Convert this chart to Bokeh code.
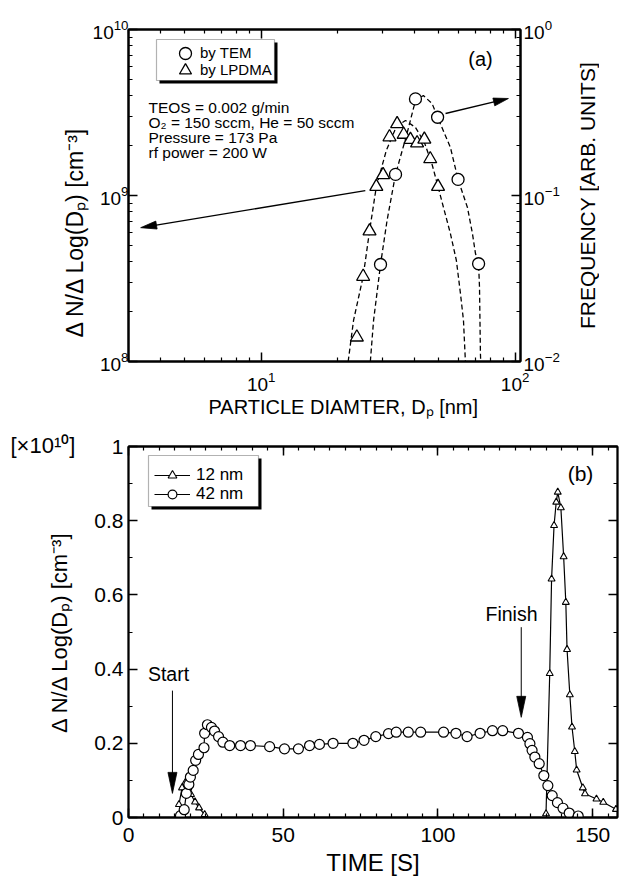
import math
from bokeh.plotting import figure
from bokeh.models import (Range1d, LogScale, LogAxis, LinearAxis, FixedTicker,
                          SingleIntervalTicker, Legend, LegendItem, Label, Title,
                          BoxAnnotation, CustomJSTickFormatter)
from bokeh.layouts import column, row
from bokeh.embed import file_html
from bokeh.resources import INLINE

FONT = "Liberation Sans"
NAN = float("nan")

# ---------------- panel (a): size distributions ----------------
tem_diam_nm = [29.5, 33.8, 40.5, 49.5, 59.6, 71.8]
tem_frequency = [0.0384, 0.134, 0.382, 0.296, 0.125, 0.0388]

lpdma_diam_nm = [23.8, 25.2, 26.7, 28.4, 30.2, 32.0, 34.3, 36.4, 38.7, 41.1, 43.9, 46.3, 49.7]
lpdma_conc = [1.40e8, 3.25e8, 6.1e8, 1.13e9, 1.33e9, 2.25e9, 2.70e9, 2.33e9, 2.17e9,
              2.07e9, 2.18e9, 1.66e9, 1.13e9]

lpdma_fit_diam = [22.0, 23.1, 25.2, 26.7, 28.4, 31.1, 34.1, 37.0, 40.5, 43.9, 47.2,
                  49.7, 52.2, 55.6, 58.7, 60.9, 62.6, 63.7]
lpdma_fit_conc = [1.0e8, 1.77e8, 3.25e8, 6.1e8, 1.13e9, 1.87e9, 2.61e9, 2.83e9, 2.57e9,
                  2.09e9, 1.52e9, 1.13e9, 8.5e8, 5.9e8, 4.06e8, 2.57e8, 1.77e8, 1.0e8]

tem_fit_diam = [26.9, 27.7, 29.5, 31.3, 33.8, 37.5, 40.5, 43.5, 47.1, 49.5, 55.6, 59.6,
                64.9, 67.9, 69.8, 71.8, 72.4, 73.0, 73.2]
tem_fit_freq = [0.010, 0.0177, 0.0384, 0.0707, 0.134, 0.236, 0.373, 0.400, 0.358, 0.296,
                0.195, 0.125, 0.0847, 0.059, 0.0447, 0.0388, 0.0279, 0.0112, 0.010]

a_x_range = (3, 105)
a_yl_range = (1e8, 1e10)
a_yr_range = (1e-2, 1.0)
a_x_ticks = [10, 100]
a_yl_ticks = [1e8, 1e9, 1e10]
a_yr_ticks = [1e-2, 1e-1, 1e0]

# arrows (data coords): TEM arrow on frequency axis, LPDMA arrow on concentration axis
tem_arrow_tail, tem_arrow_tip = (53.2, 0.312), (94.1, 0.384)
lpdma_arrow_tail, lpdma_arrow_tip = (25.7, 1.07e9), (3.35, 6.4e8)

conditions = ["TEOS = 0.002 g/min", "O\u2082 = 150 sccm, He = 50 sccm",
              "Pressure = 173 Pa", "rf power = 200 W"]

# ---------------- panel (b): time evolution ----------------
time_42 = [16.8, 18.0, 18.7, 19.5, 20.0, 20.9, 21.7, 22.6, 24.4, 24.6, 25.5, 26.8, 27.8,
           29.1, 30.5, 32.7, 36.2, 39.4, 45.6, 50.4, 54.9, 58.5, 61.7, 66.1, 72.5, 76.1,
           79.9, 84.0, 86.5, 90.4, 94.4, 101.8, 105.8, 109.4, 113.6, 117.6, 120.9, 126.0,
           128.9, 129.7, 130.4, 131.3, 132.7, 134.2, 135.5, 136.9, 138.6, 140.4, 142.4, 145.3]
conc_42 = [0.005, 0.021, 0.065, 0.089, 0.109, 0.127, 0.154, 0.170, 0.188, 0.227, 0.250,
           0.243, 0.233, 0.218, 0.203, 0.194, 0.194, 0.194, 0.191, 0.185, 0.185, 0.194,
           0.197, 0.200, 0.200, 0.208, 0.218, 0.226, 0.230, 0.230, 0.230, 0.230, 0.227,
           0.218, 0.227, 0.234, 0.234, 0.227, 0.216, 0.199, 0.181, 0.163, 0.145, 0.113,
           0.086, 0.059, 0.040, 0.025, 0.012, 0.004]

time_12 = [16.3, 17.3, 18.4, 19.3, 20.2, 21.5, 22.8, 24.6, NAN,
           134.9, 136.1, 136.7, 137.5, 138.2, 138.7, 139.7, 140.6, 141.3, 141.7, 142.6,
           143.3, 144.2, 144.8, 146.8, 147.5, 151.2, 153.4, 157.5]
conc_12 = [0.035, 0.080, 0.095, 0.080, 0.062, 0.042, 0.026, 0.008, NAN,
           0.010, 0.388, 0.643, 0.787, 0.850, 0.877, 0.835, 0.703, 0.580, 0.453, 0.331,
           0.244, 0.178, 0.128, 0.080, 0.064, 0.050, 0.041, 0.022]

b_x_range = (0, 158)
b_y_range = (0, 1)
start_arrow = (14.2, 0.342, 0.065)     # x, tail y, tip y
finish_arrow = (126.9, 0.513, 0.270)

# ---------------- layout constants (page pixels) ----------------
A_LEFT, A_TOP, A_FW, A_FH = 128, 29, 392, 332
B_LEFT, B_TOP, B_FW, B_FH = 128, 446, 489, 371
A_BOTTOM_BORDER = 60
L10 = math.log10


def a_to_px(x, y, rng):
    fx = (L10(x) - L10(a_x_range[0])) / (L10(a_x_range[1]) - L10(a_x_range[0]))
    fy = (L10(y) - L10(rng[0])) / (L10(rng[1]) - L10(rng[0]))
    return A_LEFT + fx * A_FW, A_TOP + A_FH - fy * A_FH


def a_from_px(px, py, rng):
    fx = (px - A_LEFT) / A_FW
    fy = (A_TOP + A_FH - py) / A_FH
    x = 10 ** (L10(a_x_range[0]) + fx * (L10(a_x_range[1]) - L10(a_x_range[0])))
    y = 10 ** (L10(rng[0]) + fy * (L10(rng[1]) - L10(rng[0])))
    return x, y


def b_to_px(x, y):
    return (B_LEFT + (x - b_x_range[0]) / (b_x_range[1] - b_x_range[0]) * B_FW,
            B_TOP + B_FH - (y - b_y_range[0]) / (b_y_range[1] - b_y_range[0]) * B_FH)


def b_from_px(px, py):
    return (b_x_range[0] + (px - B_LEFT) / B_FW * (b_x_range[1] - b_x_range[0]),
            b_y_range[0] + (B_TOP + B_FH - py) / B_FH * (b_y_range[1] - b_y_range[0]))


def draw_arrow(p, tail, tip, to_px, from_px, L, W, lw, **kw):
    (tx, ty), (hx, hy) = to_px(*tail), to_px(*tip)
    dx, dy = hx - tx, hy - ty
    n = math.hypot(dx, dy)
    ux, uy = dx / n, dy / n
    bx, by = hx - L * ux, hy - L * uy
    nx, ny = -uy, ux
    pts = [(hx, hy), (bx + W / 2 * nx, by + W / 2 * ny), (bx - W / 2 * nx, by - W / 2 * ny)]
    send = from_px(bx + 0.3 * L * ux, by + 0.3 * L * uy)
    p.line([tail[0], send[0]], [tail[1], send[1]], line_color="black", line_width=lw, **kw)
    dpts = [from_px(*q) for q in pts]
    p.patch([q[0] for q in dpts], [q[1] for q in dpts], fill_color="black",
            line_color="black", line_width=0.8, **kw)


def style_axis(ax, tick_size, label_size, lw=2.0):
    ax.axis_line_color = "black"
    ax.axis_line_width = lw
    ax.major_tick_in = 9
    ax.major_tick_out = 0
    ax.minor_tick_in = 4
    ax.minor_tick_out = 0
    ax.major_tick_line_color = "black"
    ax.minor_tick_line_color = "black"
    ax.major_tick_line_width = 1.5
    ax.minor_tick_line_width = 1.2
    ax.major_label_text_font = FONT
    ax.major_label_text_font_size = tick_size
    ax.major_label_text_color = "black"
    ax.axis_label_text_font = FONT
    ax.axis_label_text_font_size = label_size
    ax.axis_label_text_font_style = "normal"
    ax.axis_label_text_color = "black"


def mirror(ax):
    ax.major_label_text_font_size = "0px"
    ax.major_label_standoff = 0
    ax.formatter = CustomJSTickFormatter(code="return ''")


def minor_log(lo, hi):
    out = []
    e0, e1 = int(math.floor(L10(lo))), int(math.ceil(L10(hi)))
    for e in range(e0, e1 + 1):
        for m in range(2, 10):
            v = m * 10 ** e
            if lo <= v <= hi:
                out.append(v)
    return out


def one_legend(label, renderers, x, y, gw, gh, size, standoff):
    return Legend(items=[LegendItem(label=label, renderers=renderers)],
                  location=(x, y), orientation="vertical",
                  glyph_width=gw, glyph_height=gh, label_height=gh, spacing=0,
                  padding=0, margin=0, label_standoff=standoff,
                  border_line_color=None, background_fill_alpha=0,
                  label_text_font=FONT, label_text_font_size=size,
                  label_text_color="black")


def side_title(text, size, align, offset, standoff):
    return Title(text=text, align=align, offset=offset, standoff=standoff,
                 text_font=FONT, text_font_size=size, text_font_style="normal",
                 text_color="black")


# ======================= figure (a) =======================
p1 = figure(frame_width=A_FW, frame_height=A_FH, x_axis_type="log", y_axis_type="log",
            x_range=Range1d(*a_x_range), y_range=Range1d(*a_yl_range),
            min_border_left=A_LEFT, min_border_top=A_TOP,
            min_border_right=48, min_border_bottom=A_BOTTOM_BORDER,
            output_backend="svg", toolbar_location=None)
p1.extra_y_ranges = {"freq": Range1d(*a_yr_range)}
p1.extra_y_scales = {"freq": LogScale()}
p1.xgrid.visible = False
p1.ygrid.visible = False
p1.outline_line_color = "black"
p1.outline_line_width = 2
p1.background_fill_color = "white"
p1.border_fill_color = "white"

xax = p1.below[0]
xax.ticker = FixedTicker(ticks=a_x_ticks, minor_ticks=minor_log(*a_x_range))
style_axis(xax, "19px", "20px")
xax.major_label_standoff = 10

yax = p1.left[0]
yax.ticker = FixedTicker(ticks=a_yl_ticks, minor_ticks=minor_log(*a_yl_range))
style_axis(yax, "19px", "22px")
yax.major_label_standoff = 0

rax = LogAxis(y_range_name="freq",
              ticker=FixedTicker(ticks=a_yr_ticks, minor_ticks=minor_log(*a_yr_range)))
style_axis(rax, "19px", "21px")
rax.major_label_standoff = 3
p1.add_layout(rax, "right")

tax = LogAxis(ticker=FixedTicker(ticks=a_x_ticks, minor_ticks=minor_log(*a_x_range)))
style_axis(tax, "0px", "10px")
mirror(tax)
p1.add_layout(tax, "above")

# axis titles of panel (a), placed as side titles
p1.add_layout(side_title("PARTICLE DIAMTER, D\u209a [nm]", "20px", "left", 80, 0), "below")
p1.add_layout(side_title("\u0394 N/\u0394 Log(D\u209a) [cm\u207b\u00b3]", "23px", "left", 24, 3),
              "left")


def a_box(px0, py0, px1, py1, **kw):
    x0, y0 = a_from_px(px0, py1, a_yl_range)
    x1, y1 = a_from_px(px1, py0, a_yl_range)
    return BoxAnnotation(left=x0, right=x1, bottom=y0, top=y1, level="underlay", **kw)

p1.add_layout(a_box(159, 42, 277, 83, fill_color="black", fill_alpha=1, line_color=None))
p1.add_layout(a_box(156, 39, 274, 80, fill_color="white", fill_alpha=1,
                    line_color="black", line_width=1.2))

r_lfit = p1.line(lpdma_fit_diam, lpdma_fit_conc, line_color="black", line_width=1.3,
                 line_dash="5 3")
r_tfit = p1.line(tem_fit_diam, tem_fit_freq, y_range_name="freq", line_color="black",
                 line_width=1.3, line_dash="5 3")
r_lp = p1.scatter(lpdma_diam_nm, lpdma_conc, marker="triangle", size=13,
                  fill_color="white", line_color="black", line_width=1.3)
r_tem = p1.scatter(tem_diam_nm, tem_frequency, marker="circle", size=12,
                   fill_color="white", line_color="black", line_width=1.3,
                   y_range_name="freq")

draw_arrow(p1, tem_arrow_tail, tem_arrow_tip,
           lambda x, y: a_to_px(x, y, a_yr_range),
           lambda px, py: a_from_px(px, py, a_yr_range), 15, 8, 1.4, y_range_name="freq")
draw_arrow(p1, lpdma_arrow_tail, lpdma_arrow_tip,
           lambda x, y: a_to_px(x, y, a_yl_range),
           lambda px, py: a_from_px(px, py, a_yl_range), 16, 8, 1.4)

# legend rows centred near page y = 52.5 and 69.5, marker at x = 185
A_FB = A_TOP + A_FH
p1.add_layout(one_legend("by TEM", [r_tem], 42, A_FB - 15 - 52.5, 30, 30, "15px", 0))
p1.add_layout(one_legend("by LPDMA", [r_lp], 42, A_FB - 15 - 69.5, 30, 30, "15px", 0))

for i, txt in enumerate(conditions):
    lx, ly = a_from_px(148, 107 + 15 * i, a_yl_range)
    p1.add_layout(Label(x=lx, y=ly, text=txt, text_font=FONT, text_font_size="15.5px",
                        text_align="left", text_baseline="middle", text_color="black"))

lx, ly = a_from_px(480, 58, a_yl_range)
p1.add_layout(Label(x=lx, y=ly, text="(a)", text_font=FONT, text_font_size="20px",
                    text_align="center", text_baseline="middle", text_color="black"))

# side strip carrying the right-hand axis title (reads bottom to top)
pf = figure(frame_width=1, frame_height=A_FH, x_range=Range1d(0, 1), y_range=Range1d(0, 1),
            min_border_left=30, min_border_right=0, min_border_top=A_TOP,
            min_border_bottom=A_BOTTOM_BORDER, x_axis_location=None,
            output_backend="svg", toolbar_location=None)
pf.outline_line_color = None
pf.xgrid.visible = False
pf.ygrid.visible = False
pf.border_fill_color = "white"
fa = pf.left[0]
style_axis(fa, "0px", "21px")
mirror(fa)
fa.axis_line_color = None
fa.major_tick_line_color = None
fa.minor_tick_line_color = None
fa.axis_label = "FREQUENCY [ARB. UNITS]"
fa.axis_label_standoff = 0

# ======================= figure (b) =======================
fig1_h = A_TOP + A_FH + A_BOTTOM_BORDER
p2 = figure(frame_width=B_FW, frame_height=B_FH,
            x_range=Range1d(*b_x_range), y_range=Range1d(*b_y_range),
            min_border_left=B_LEFT, min_border_top=B_TOP - fig1_h,
            min_border_right=2, min_border_bottom=58,
            output_backend="svg", toolbar_location=None)
p2.xgrid.visible = False
p2.ygrid.visible = False
p2.outline_line_color = "black"
p2.outline_line_width = 1.8
p2.background_fill_color = "white"
p2.border_fill_color = "white"

bx = p2.below[0]
bx.ticker = SingleIntervalTicker(interval=50, num_minor_ticks=10)
style_axis(bx, "21px", "24px", lw=1.8)
bx.axis_label = "TIME [S]"
bx.major_label_standoff = 10
bx.axis_label_standoff = 4

by = p2.left[0]
by.ticker = SingleIntervalTicker(interval=0.2, num_minor_ticks=2)
by.formatter = CustomJSTickFormatter(code="return String(Math.round(tick*10)/10)")
style_axis(by, "21px", "22px", lw=1.8)
by.axis_label = "\u0394 N/\u0394 Log(D\u209a) [cm\u207b\u00b3]"
by.major_label_standoff = 5
by.axis_label_standoff = 19

b_top = LinearAxis(ticker=SingleIntervalTicker(interval=50, num_minor_ticks=10))
style_axis(b_top, "0px", "10px", lw=1.8)
mirror(b_top)
p2.add_layout(b_top, "above")
b_right = LinearAxis(ticker=SingleIntervalTicker(interval=0.2, num_minor_ticks=2))
style_axis(b_right, "0px", "10px", lw=1.8)
mirror(b_right)
p2.add_layout(b_right, "right")

p2.add_layout(side_title("[\u00d710\u00b9\u2070]", "22px", "left", -118, -22), "above")


def b_box(px0, py0, px1, py1, **kw):
    x0, y1 = b_from_px(px0, py0)
    x1, y0 = b_from_px(px1, py1)
    return BoxAnnotation(left=x0, right=x1, bottom=y0, top=y1, level="underlay", **kw)

p2.add_layout(b_box(151, 458, 261, 509, fill_color="black", fill_alpha=1, line_color=None))
p2.add_layout(b_box(148, 455, 258, 506, fill_color="white", fill_alpha=1,
                    line_color="black", line_width=1.2))

r12_line = p2.line(time_12, conc_12, line_color="black", line_width=1.2)
r12_pts = p2.scatter(time_12, conc_12, marker="triangle", size=7, fill_color="white",
                     line_color="black", line_width=1.1)
r42_line = p2.line(time_42, conc_42, line_color="black", line_width=1.2)
r42_pts = p2.scatter(time_42, conc_42, marker="circle", size=10, fill_color="white",
                     line_color="black", line_width=1.2)

for (ax_x, ay0, ay1) in (start_arrow, finish_arrow):
    draw_arrow(p2, (ax_x, ay0), (ax_x, ay1), b_to_px, b_from_px, 21, 9, 1.0)

# legend rows centred near page y = 475 and 494, glyph starting at x = 154
B_FB = B_TOP + B_FH
p2.add_layout(one_legend("12 nm", [r12_line, r12_pts], 26, B_FB - 11 - 475, 36, 22, "17px", 6))
p2.add_layout(one_legend("42 nm", [r42_line, r42_pts], 26, B_FB - 11 - 494, 36, 22, "17px", 6))

for txt, (px, py), sz in (("(b)", (580, 473), "21px"),
                          ("Start", (168, 673), "19.5px"),
                          ("Finish", (511, 613), "19.5px")):
    lx, ly = b_from_px(px, py)
    p2.add_layout(Label(x=lx, y=ly, text=txt, text_font=FONT, text_font_size=sz,
                        text_align="center", text_baseline="middle", text_color="black"))

layout = column(row(p1, pf), p2)
open("out.html", "w").write(file_html(layout, INLINE, title="particle size"))
